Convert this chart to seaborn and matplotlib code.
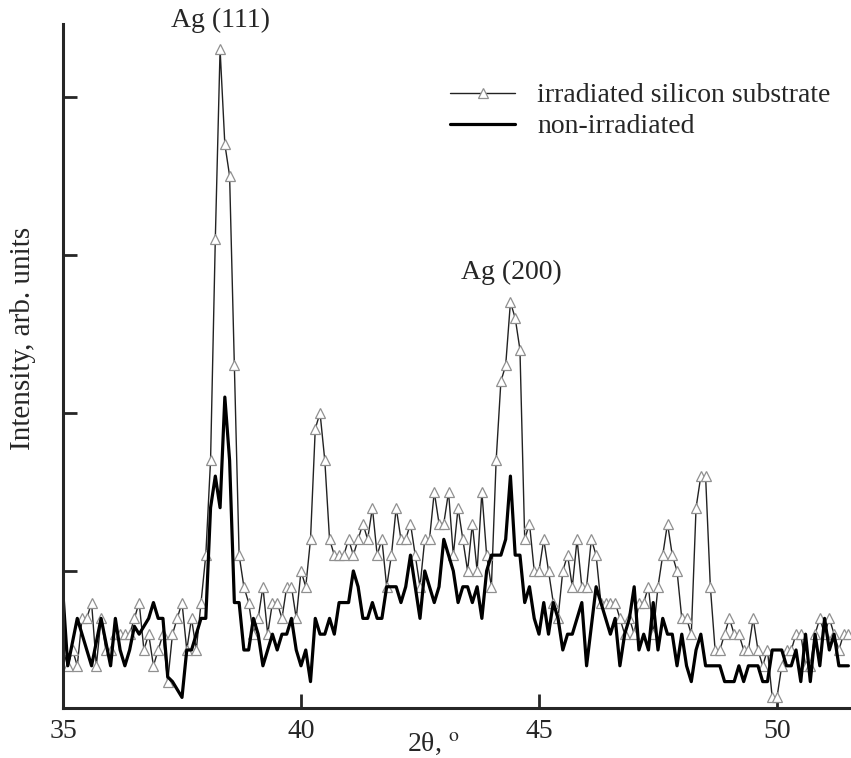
import numpy as np
import pandas as pd
import matplotlib
matplotlib.use("Agg")
import matplotlib.pyplot as plt
import seaborn as sns

# 2theta scan, 0.1 deg step from 35.0 to 51.5
two_theta = np.round(np.arange(35.0, 51.55, 0.1), 1)

# irradiated silicon substrate (counts)
irradiated = [
    5, 4, 5, 4, 7, 7, 8, 4, 7, 5,
    5, 6, 6, 6, 6, 7, 8, 5, 6, 4,
    5, 6, 3, 6, 7, 8, 5, 7, 5, 8,
    11, 17, 31, 43, 37, 35, 23, 11, 9, 8,
    6, 7, 9, 6, 8, 8, 7, 9, 9, 7,
    10, 9, 12, 19, 20, 17, 12, 11, 11, 11,
    12, 11, 12, 13, 12, 14, 11, 12, 9, 11,
    14, 12, 12, 13, 11, 9, 12, 12, 15, 13,
    13, 15, 11, 14, 12, 10, 13, 10, 15, 11,
    9, 17, 22, 23, 27, 26, 24, 12, 13, 10,
    10, 12, 10, 8, 7, 10, 11, 9, 12, 9,
    9, 12, 11, 8, 8, 8, 8, 7, 6, 7,
    6, 8, 8, 9, 6, 9, 11, 13, 11, 10,
    7, 7, 6, 14, 16, 16, 9, 5, 5, 6,
    7, 6, 6, 5, 5, 7, 5, 4, 5, 2,
    2, 4, 5, 5, 6, 6, 4, 4, 6, 7,
    6, 7, 6, 5, 6, 6,
]

# non-irradiated
non_irradiated = [
    8.5, 4, 5.5, 7, 6, 5, 4, 5.5, 7, 5.5,
    4, 7, 5, 4, 5, 6.5, 6, 6.5, 7, 8,
    7, 7, 3.3, 3, 2.5, 2, 5, 5, 6, 7,
    7, 14, 16, 14, 21, 17, 8, 8, 5, 5,
    7, 6, 4, 5, 6, 5, 6, 6, 7, 5,
    4, 5, 3, 7, 6, 6, 7, 6, 8, 8,
    8, 10, 9, 7, 7, 8, 7, 7, 9, 9,
    9, 8, 9, 11, 9, 7, 10, 9, 8, 9,
    12, 11, 10, 8, 9, 9, 8, 9, 7, 10,
    11, 11, 11, 12, 16, 11, 11, 8, 9, 7,
    6, 8, 6, 8, 7, 5, 6, 6, 7, 8,
    4, 6.5, 9, 8, 7, 6, 7, 4, 6, 7,
    9, 5, 6, 5, 8, 5, 7, 6, 6, 4,
    6, 4, 3, 5, 6, 4, 4, 4, 4, 3,
    3, 3, 4, 3, 4, 4, 4, 3, 3, 5,
    5, 5, 4, 4, 5, 3, 6, 3, 6, 4,
    7, 5, 6, 4, 4, 4,
]

x_ticks = [35, 40, 45, 50]
y_ticks = [10, 20, 30, 40]
peak_labels = ["Ag (111)", "Ag (200)"]
peak_pos = [(38.3, 44.8), (44.43, 28.9)]

df = pd.DataFrame({"two_theta": two_theta,
                   "irr": irradiated,
                   "non": non_irradiated})

sns.set_style("ticks")
plt.rcParams["font.family"] = ["Liberation Serif", "DejaVu Serif"]
plt.rcParams["mathtext.fontset"] = "stix"

fig = plt.figure(figsize=(8.51, 7.58), dpi=100)
ax = fig.add_axes([63 / 851, 50 / 758, 788 / 851, 684 / 758])

sns.lineplot(data=df, x="two_theta", y="irr", ax=ax, color="#222222", lw=1.0,
             marker="^", markersize=6.5, markerfacecolor="white",
             markeredgecolor="#909090", markeredgewidth=0.9,
             label="irradiated silicon substrate")
sns.lineplot(data=df, x="two_theta", y="non", ax=ax, color="black", lw=2.3,
             label="non-irradiated")

ax.set_xlim(35, 51.555)
ax.set_ylim(1.33, 44.6)
ax.set_xticks(x_ticks)
ax.set_yticks(y_ticks)
ax.set_yticklabels([])
ax.tick_params(direction="in", length=10, width=2, labelsize=20, pad=8)

for s in ["top", "right"]:
    ax.spines[s].set_visible(False)
for s in ["left", "bottom"]:
    ax.spines[s].set_linewidth(2.2)

ax.set_xlabel(r"2θ, $^\mathrm{o}$", fontsize=20)
ax.xaxis.set_label_coords(0.47, -0.034)
ax.set_ylabel("Intensity, arb. units", fontsize=21)
ax.yaxis.set_label_coords(-0.034, 0.54)

for lab, (px, py) in zip(peak_labels, peak_pos):
    ax.text(px, py, lab, fontsize=20, ha="center", va="center")

ax.legend(loc="upper left", bbox_to_anchor=(0.491, 0.914), frameon=False,
          fontsize=20, handlelength=2.35, handletextpad=0.8,
          labelspacing=0.2, borderpad=0, borderaxespad=0)

plt.savefig("out.png", dpi=100)
